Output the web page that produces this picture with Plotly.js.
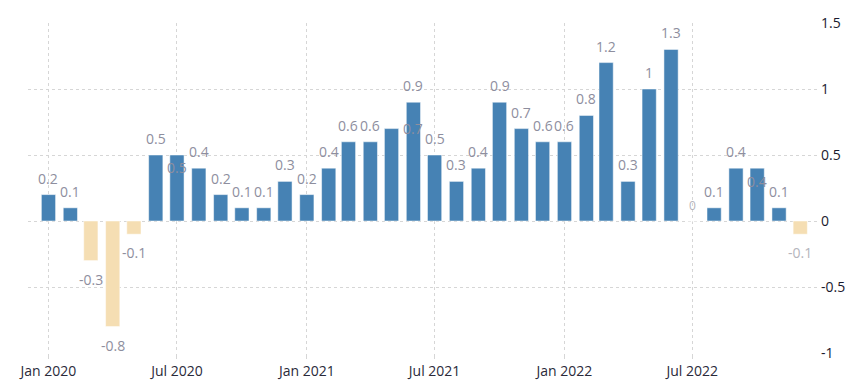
<!DOCTYPE html>
<html>
<head>
<meta charset="utf-8">
<script src="https://cdn.plot.ly/plotly-3.0.1.min.js"></script>
<style>html,body{margin:0;padding:0;background:#fff;}#chart{width:867px;height:392px;}</style>
</head>
<body>
<div id="chart"></div>
<script>
const months = ["2020-01","2020-02","2020-03","2020-04","2020-05","2020-06","2020-07","2020-08","2020-09","2020-10","2020-11","2020-12",
"2021-01","2021-02","2021-03","2021-04","2021-05","2021-06","2021-07","2021-08","2021-09","2021-10","2021-11","2021-12",
"2022-01","2022-02","2022-03","2022-04","2022-05","2022-06","2022-07","2022-08","2022-09","2022-10","2022-11","2022-12"];
const values = [0.2,0.1,-0.3,-0.8,-0.1,0.5,0.5,0.4,0.2,0.1,0.1,0.3,
0.2,0.4,0.6,0.6,0.7,0.9,0.5,0.3,0.4,0.9,0.7,0.6,
0.6,0.8,1.2,0.3,1.0,1.3,0,0.1,0.4,0.4,0.1,-0.1];
const tickVals = ["2020-01-01","2020-07-01","2021-01-01","2021-07-01","2022-01-01","2022-07-01"];
const tickText = ["Jan 2020","Jul 2020","Jan 2021","Jul 2021","Jan 2022","Jul 2022"];
const yTicks = [-1,-0.5,0,0.5,1,1.5];

// label style tweaks (pixel shifts for overlapping labels)
const labelShift = {"2020-07":[0,-29],"2021-05":[21,-16],"2022-10":[0,-30]};
const lightLabels = {"2022-07":true,"2022-12":true};

const xs = months.map(m => m + "-01");
const colors = values.map(v => v < 0 ? "#F5DEB3" : "#4682B4");

const annotations = months.map((m, i) => {
  const v = values[i];
  const sh = labelShift[m] || [0,0];
  const neg = v < 0;
  return {
    x: xs[i], y: v, xref: "x", yref: "y",
    text: String(v),
    showarrow: false,
    yanchor: neg ? "top" : "bottom",
    xshift: sh[0],
    yshift: (neg ? -7 : 5) + sh[1],
    font: {family: "Open Sans, sans-serif", size: m === "2022-07" ? 12 : 14,
           color: lightLabels[m] ? "#b4b4bc" : "#8e8e9e"}
  };
});

const trace = {
  type: "bar",
  x: xs,
  y: values,
  marker: {color: colors, line: {color: "#ffffff", width: 0.5}},
  hoverinfo: "x+y"
};

const layout = {
  width: 867, height: 392,
  margin: {l: 28, r: 47, t: 23, b: 39},
  paper_bgcolor: "#fff", plot_bgcolor: "#fff",
  showlegend: false,
  bargap: 0.28,
  xaxis: {
    type: "date",
    range: ["2019-12-03", "2022-12-29"],
    tickvals: tickVals, ticktext: tickText,
    showgrid: true, gridcolor: "#d6d6d6", griddash: "dot", gridwidth: 1,
    ticks: "outside", ticklen: 5, tickcolor: "#d6d6d6",
    zeroline: false, showline: false,
    tickfont: {family: "Open Sans, sans-serif", size: 14, color: "#2a2a3a"}
  },
  yaxis: {
    side: "right",
    range: [-1, 1.5],
    tickvals: yTicks, ticktext: yTicks.map(String),
    showgrid: true, gridcolor: "#d6d6d6", griddash: "dot", gridwidth: 1,
    zeroline: false, showline: false, ticks: "",
    tickfont: {family: "Open Sans, sans-serif", size: 14, color: "#1a1a2e"}
  },
  annotations: annotations
};

Plotly.newPlot("chart", [trace], layout, {displayModeBar: false, staticPlot: true});
</script>
</body>
</html>
